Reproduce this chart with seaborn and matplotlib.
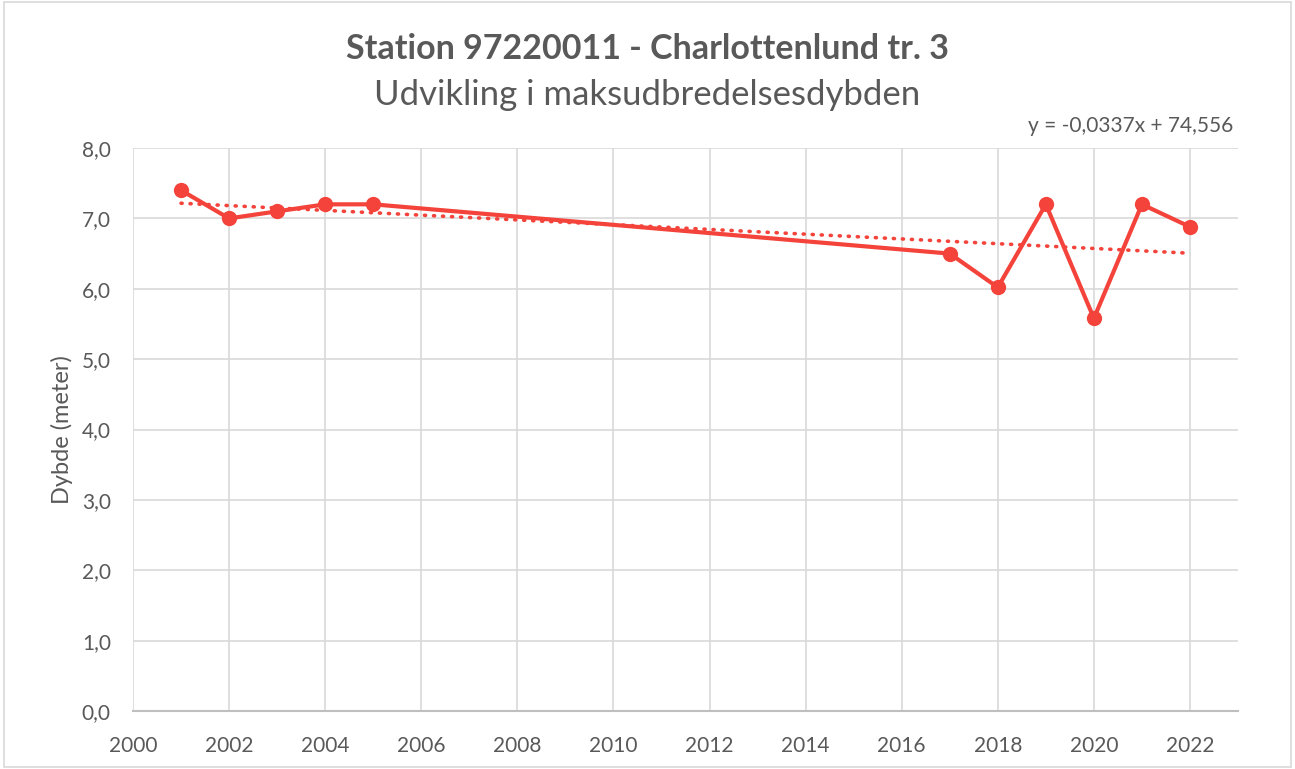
# line chart of max depth per year with linear trendline
import numpy as np
import pandas as pd
import seaborn as sns
import matplotlib.pyplot as plt
from matplotlib.patches import Rectangle

years = [2001, 2002, 2003, 2004, 2005, 2017, 2018, 2019, 2020, 2021, 2022]
depth = [7.4, 7.0, 7.1, 7.2, 7.2, 6.5, 6.02, 7.2, 5.58, 7.2, 6.88]
x_ticks = list(range(2000, 2023, 2))
y_ticks = [0, 1, 2, 3, 4, 5, 6, 7, 8]
eq_label = "y = -0,0337x + 74,556"

df = pd.DataFrame({"year": years, "depth": depth})

# linear trendline over the data
slope, intercept = np.polyfit(df["year"], df["depth"], 1)
trend = pd.DataFrame({"year": [years[0], years[-1]]})
trend["depth"] = slope * trend["year"] + intercept

sns.set_style("white")
plt.rcParams["font.family"] = ["Lato", "DejaVu Sans"]
text_col = "#595959"
red = "#F4433A"

fig = plt.figure(figsize=(12.95, 7.69), dpi=100)
ax = fig.add_axes([0.1027, 0.0754, 0.8533, 0.7321])

sns.lineplot(data=df, x="year", y="depth", ax=ax, color=red, linewidth=3,
             marker="o", markersize=11, markeredgewidth=0, zorder=3)
sns.lineplot(data=trend, x="year", y="depth", ax=ax, color=red, linewidth=2.6,
             linestyle=(0, (0.3, 2.2)), dash_capstyle="round", zorder=2)

ax.set_xlim(2000, 2023)
ax.set_ylim(0, 8)
ax.set_xticks(x_ticks)
ax.set_yticks(y_ticks)
ax.set_xticklabels([str(t) for t in x_ticks])
ax.set_yticklabels([f"{t:.1f}".replace(".", ",") for t in y_ticks])
ax.tick_params(axis="both", labelsize=15, labelcolor=text_col, length=0)
ax.tick_params(axis="x", pad=18)
ax.tick_params(axis="y", pad=16)
ax.grid(True, color="#D9D9D9", linewidth=1.2)
ax.set_axisbelow(True)
for s in ["top", "right", "left"]:
    ax.spines[s].set_visible(False)
ax.spines["bottom"].set_color("#BFBFBF")
ax.spines["bottom"].set_linewidth(1.5)

ax.set_xlabel("")
ax.set_ylabel("Dybde (meter)", fontsize=17, color=text_col, labelpad=6)

fig.text(0.5, 0.936, "Station 97220011 - Charlottenlund tr. 3", ha="center", va="center",
         fontsize=24.5, fontweight="bold", color=text_col)
fig.text(0.5, 0.876, "Udvikling i maksudbredelsesdybden", ha="center", va="center",
         fontsize=25, color=text_col)
fig.text(0.952, 0.836, eq_label, ha="right", va="center", fontsize=15, color=text_col)

fig.patches.append(Rectangle((0.003, 0.003), 0.994, 0.994, transform=fig.transFigure,
                             fill=False, edgecolor="#D9D9D9", linewidth=1.2))

fig.savefig("out.png", dpi=100)
